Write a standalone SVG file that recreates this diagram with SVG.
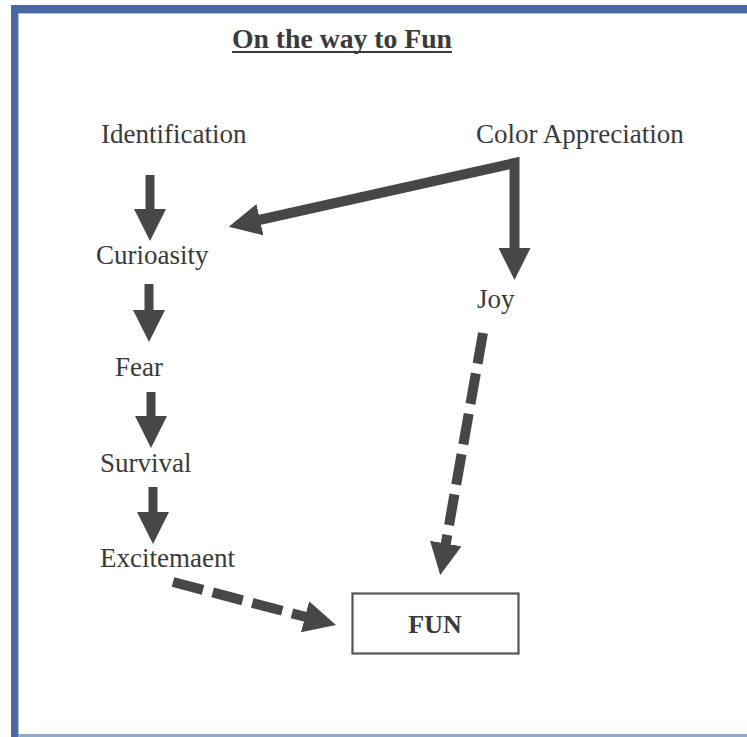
<svg xmlns="http://www.w3.org/2000/svg" width="747" height="737" viewBox="0 0 747 737">
  <style>
    .lbl { font-family: "Liberation Serif", "Times New Roman", serif; font-size: 27px; fill: #3a3a3a; }
    .title { font-family: "Liberation Serif", "Times New Roman", serif; font-size: 27px; font-weight: bold; fill: #3a3a3a; }
    .fun { font-family: "Liberation Serif", "Times New Roman", serif; font-size: 26px; font-weight: bold; fill: #3a3a3a; }
    .solid { fill: none; stroke: #474747; stroke-width: 9; }
    .thick { fill: none; stroke: #474747; stroke-width: 10; stroke-linejoin: miter; }
    .dash { fill: none; stroke: #474747; stroke-width: 10; stroke-dasharray: 31 10; }
  </style>
  <defs>
    <marker id="head" markerUnits="userSpaceOnUse" markerWidth="34" markerHeight="32" refX="1" refY="16" orient="auto-start-reverse">
      <path d="M0,0 L32,16 L0,32 z" fill="#474747"/>
    </marker>
  </defs>

  <!-- page frame -->
  <rect width="747" height="737" fill="#ffffff"/>
  <rect x="11" y="5" width="736" height="8" fill="#4b6aa4"/>
  <rect x="18" y="13" width="729" height="1" fill="#a9bfdb"/>
  <rect x="11" y="5" width="7" height="732" fill="#4b6aa4"/>
  <rect x="18" y="13" width="1" height="724" fill="#a9bfdb"/>
  <rect x="18" y="734" width="729" height="3" fill="#8eaacb"/>

  <!-- heading -->
  <g id="title">
    <text class="title" x="232" y="48" textLength="220" lengthAdjust="spacingAndGlyphs">On the way to Fun</text>
    <rect x="232" y="51" width="220" height="2" fill="#3a3a3a"/>
  </g>

  <!-- connectors -->
  <g id="connectors">
    <line class="solid" x1="150" y1="175" x2="150" y2="210" marker-end="url(#head)"/>
    <line class="solid" x1="149" y1="284" x2="149" y2="311" marker-end="url(#head)"/>
    <line class="solid" x1="151" y1="392" x2="151" y2="417" marker-end="url(#head)"/>
    <line class="solid" x1="153" y1="487" x2="153" y2="513" marker-end="url(#head)"/>
    <polyline class="thick" points="259,220 514.5,163 514.5,249" marker-start="url(#head)" marker-end="url(#head)"/>
    <line class="dash" x1="483" y1="333" x2="445.6" y2="544.5" marker-end="url(#head)"/>
    <line class="dash" x1="173" y1="582" x2="306" y2="617" marker-end="url(#head)"/>
  </g>

  <!-- nodes -->
  <g id="identification"><text class="lbl" x="101" y="143">Identification</text></g>
  <g id="color-appreciation"><text class="lbl" x="476" y="143">Color Appreciation</text></g>
  <g id="curioasity"><text class="lbl" x="96" y="264">Curioasity</text></g>
  <g id="joy"><text class="lbl" x="477" y="308">Joy</text></g>
  <g id="fear"><text class="lbl" x="115" y="376">Fear</text></g>
  <g id="survival"><text class="lbl" x="100" y="472">Survival</text></g>
  <g id="excitemaent"><text class="lbl" x="100" y="567">Excitemaent</text></g>
  <g id="fun">
    <rect x="352.5" y="593.5" width="166" height="60" fill="#ffffff" stroke="#555555" stroke-width="2.2"/>
    <text class="fun" x="435" y="633" text-anchor="middle">FUN</text>
  </g>
</svg>
